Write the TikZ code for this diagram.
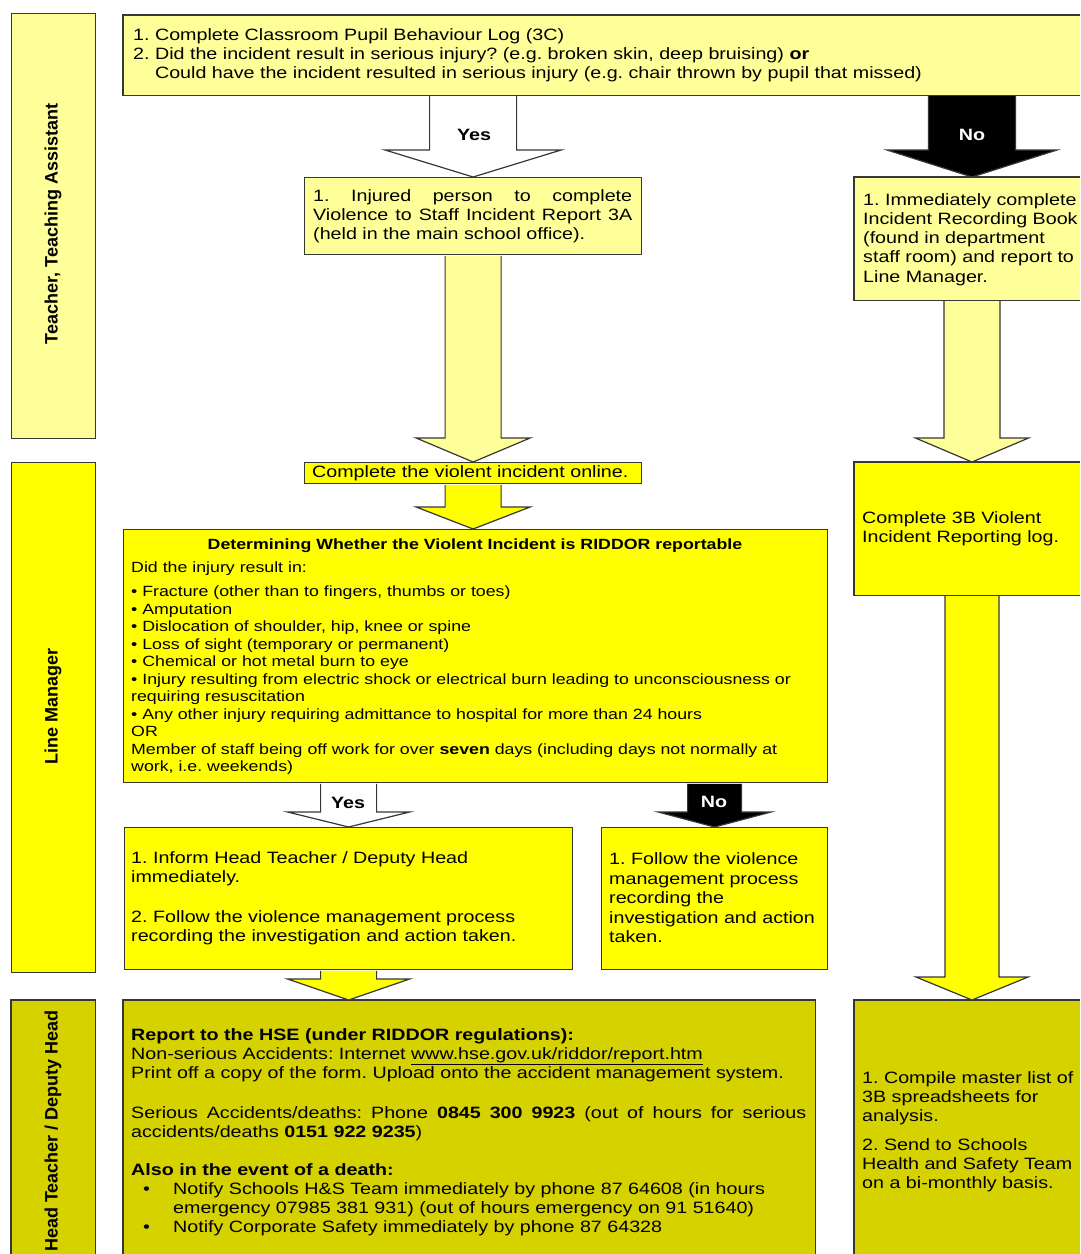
\documentclass[tikz,border=0pt]{standalone}
\usepackage{fontspec}
\setmainfont{Liberation Sans}[FakeStretch=1.2]
\newfontfamily\lanefont{Liberation Sans}
\usetikzlibrary{calc}
\definecolor{lightY}{RGB}{255,255,153}
\definecolor{brightY}{RGB}{255,255,0}
\definecolor{oliveY}{RGB}{214,210,0}
\definecolor{edge}{RGB}{55,55,55}
\newcommand{\blockarr}[6]{%
  \draw[#6] let \p1=(#1), \p2=(#2) in
  (\x2-#3pt,\y1-0.6pt) -- (\x2-#3pt,\y2+#5pt) -- (\x2-#4pt,\y2+#5pt) -- (\x2,\y2)
  -- (\x2+#4pt,\y2+#5pt) -- (\x2+#3pt,\y2+#5pt) -- (\x2+#3pt,\y1-0.6pt);}
\begin{document}
\frenchspacing
\begin{tikzpicture}[x=1pt,y=-1pt,
  box/.style={draw=edge, line width=1.2pt, rectangle, inner sep=0pt, anchor=north west},
  openbox/.style={draw=none, rectangle, inner sep=0pt, anchor=north west},
  edgeline/.style={draw=edge, line width=1.2pt},
  txt/.style={anchor=west, align=left, inner sep=0pt, font=\fontsize{16.4}{19}\selectfont},
  rtxt/.style={anchor=west, align=left, inner sep=0pt, font=\fontsize{14.8}{17.5}\selectfont},
  rtitle/.style={inner sep=0pt, font=\fontsize{14.8}{17.5}\selectfont\bfseries},
  lbl/.style={inner sep=0pt, font=\fontsize{16.4}{19}\selectfont\bfseries},
  lane/.style={rotate=90, inner sep=0pt, font=\lanefont\fontsize{18}{20}\selectfont\bfseries},
  arrw/.style={draw=edge, line width=1.2pt, fill=white},
  arrb/.style={draw=edge, line width=1.2pt, fill=black},
  arrl/.style={draw=edge, line width=1.2pt, fill=lightY},
  arry/.style={draw=edge, line width=1.2pt, fill=brightY}]
\useasboundingbox (0,0) rectangle (1080,1254);
\fill[white] (0,0) rectangle (1080,1254);

% lanes
\node[box, fill=lightY, minimum width=84pt, minimum height=425pt] (lane1) at (11,13) {};
\node[box, fill=brightY, minimum width=84pt, minimum height=510pt] (lane2) at (11,462) {};
\node[openbox, fill=oliveY, minimum width=84pt, minimum height=254pt] (lane3) at (11,1000) {};
\draw[edgeline] (lane3.south west) -- (lane3.north west) -- (lane3.north east) -- (lane3.south east);
\node[lane] (lane1T) at (53,224) {Teacher, Teaching Assistant};
\node[lane] (lane2T) at (53,706) {Line Manager};
\node[lane] (lane3T) at (53,1131) {Head Teacher / Deputy Head};

% boxes
\node[openbox, fill=lightY, minimum width=957pt, minimum height=80pt] (top) at (123,15) {};
\draw[edgeline] (top.north east) -- (top.north west) -- (top.south west) -- (top.south east);
\node[box, fill=lightY, minimum width=337pt, minimum height=77pt] (inj) at (304,177) {};
\node[openbox, fill=lightY, minimum width=226pt, minimum height=123pt] (immed) at (854,177) {};
\draw[edgeline] (immed.north east) -- (immed.north west) -- (immed.south west) -- (immed.south east);
\node[box, fill=brightY, minimum width=337pt, minimum height=21pt] (online) at (304,462) {};
\node[openbox, fill=brightY, minimum width=226pt, minimum height=133pt] (log) at (854,462) {};
\draw[edgeline] (log.north east) -- (log.north west) -- (log.south west) -- (log.south east);
\node[box, fill=brightY, minimum width=704pt, minimum height=253pt] (riddor) at (123,529) {};
\node[box, fill=brightY, minimum width=448pt, minimum height=142pt] (inform) at (124,827) {};
\node[box, fill=brightY, minimum width=226pt, minimum height=142pt] (follow) at (601,827) {};
\node[openbox, fill=oliveY, minimum width=692pt, minimum height=254pt] (hse) at (123,1000) {};
\draw[edgeline] (hse.south west) -- (hse.north west) -- (hse.north east) -- (hse.south east);
\node[openbox, fill=oliveY, minimum width=226pt, minimum height=254pt] (compile) at (854,1000) {};
\draw[edgeline] (compile.south west) -- (compile.north west) -- (compile.north east);

\coordinate (rcol) at (972,0);

% arrows
\blockarr{inj.north |- top.south}{inj.north}{43.5}{88}{27}{arrw}
\blockarr{rcol |- top.south}{rcol |- immed.north}{43.5}{85}{27}{arrb}
\blockarr{inj.south}{online.north}{28}{57}{24}{arrl}
\blockarr{online.south}{online.south |- riddor.north}{28}{57}{22}{arry}
\blockarr{inform.north |- riddor.south}{inform.north}{28}{61}{15}{arrw}
\blockarr{follow.north |- riddor.south}{follow.north}{27}{56.5}{15}{arrb}
\blockarr{inform.south}{inform.south |- hse.north}{28}{61}{21}{arry}
\blockarr{rcol |- immed.south}{rcol |- log.north}{28}{56.5}{24}{arrl}
\blockarr{rcol |- log.south}{rcol |- compile.north}{27}{56}{23}{arry}

% arrow labels
\node[lbl] (yes1) at (474,135) {Yes};
\node[lbl, text=white] (no1) at (972,135) {No};
\node[lbl] (yes2) at (348,803) {Yes};
\node[lbl, text=white] (no2) at (714,802) {No};

% texts
\node[txt] (topT) at (133,55.5) {1. Complete Classroom Pupil Behaviour Log (3C)\\
2. Did the incident result in serious injury? (e.g. broken skin, deep bruising) \textbf{or}\\
\phantom{2. }Could have the incident resulted in serious injury (e.g. chair thrown by pupil that missed)};

\node[txt] (injT) at (313,216.5) {\makebox[319pt][s]{1. Injured person to complete}\\
\makebox[319pt][s]{Violence to Staff Incident Report 3A}\\
(held in the main school office).};

\node[txt, font=\fontsize{16.4}{19.25}\selectfont] (immT) at (863,239.5) {1. Immediately complete\\
Incident Recording Book\\
(found in department\\
staff room) and report to\\
Line Manager.};

\node[txt] (onlT) at (312,473) {Complete the violent incident online.};

\node[txt] (logT) at (862,528.5) {Complete 3B Violent\\Incident Reporting log.};

\node[rtitle] (ridH) at (475,546) {Determining Whether the Violent Incident is RIDDOR reportable};
\node[rtxt] (ridT) at (131,668) {Did the injury result in:\\[7pt]
• Fracture (other than to fingers, thumbs or toes)\\
• Amputation\\
• Dislocation of shoulder, hip, knee or spine\\
• Loss of sight (temporary or permanent)\\
• Chemical or hot metal burn to eye\\
• Injury resulting from electric shock or electrical burn leading to unconsciousness or\\
requiring resuscitation\\
• Any other injury requiring admittance to hospital for more than 24 hours\\
OR\\
Member of staff being off work for over \textbf{seven} days (including days not normally at\\
work, i.e. weekends)};

\node[txt] (infT) at (131,898.5) {1. Inform Head Teacher / Deputy Head\\
immediately.\\[21pt]
2. Follow the violence management process\\
recording the investigation and action taken.};

\node[txt, font=\fontsize{16.4}{19.5}\selectfont] (folT) at (609,898) {1. Follow the violence\\
management process\\
recording the\\
investigation and action\\
taken.};

\node[txt] (hseT) at (131,1132) {\textbf{Report to the HSE (under RIDDOR regulations):}\\
Non-serious Accidents: Internet \underline{www.hse.gov.uk/riddor/report.htm}\\
Print off a copy of the form. Upload onto the accident management system.\\[21pt]
\makebox[675pt][s]{Serious Accidents/deaths: Phone \textbf{0845 300 9923} (out of hours for serious}\\
accidents/deaths \textbf{0151 922 9235})\\[19pt]
\textbf{Also in the event of a death:}\\
\makebox[42pt][l]{\hspace*{12pt}•}Notify Schools H\&S Team immediately by phone 87 64608 (in hours\\
\hspace*{42pt}emergency 07985 381 931) (out of hours emergency on 91 51640)\\
\makebox[42pt][l]{\hspace*{12pt}•}Notify Corporate Safety immediately by phone 87 64328};

\node[txt] (cmpT) at (862,1131.5) {1. Compile master list of\\
3B spreadsheets for\\
analysis.\\[10pt]
2. Send to Schools\\
Health and Safety Team\\
on a bi-monthly basis.};
\end{tikzpicture}
\end{document}
